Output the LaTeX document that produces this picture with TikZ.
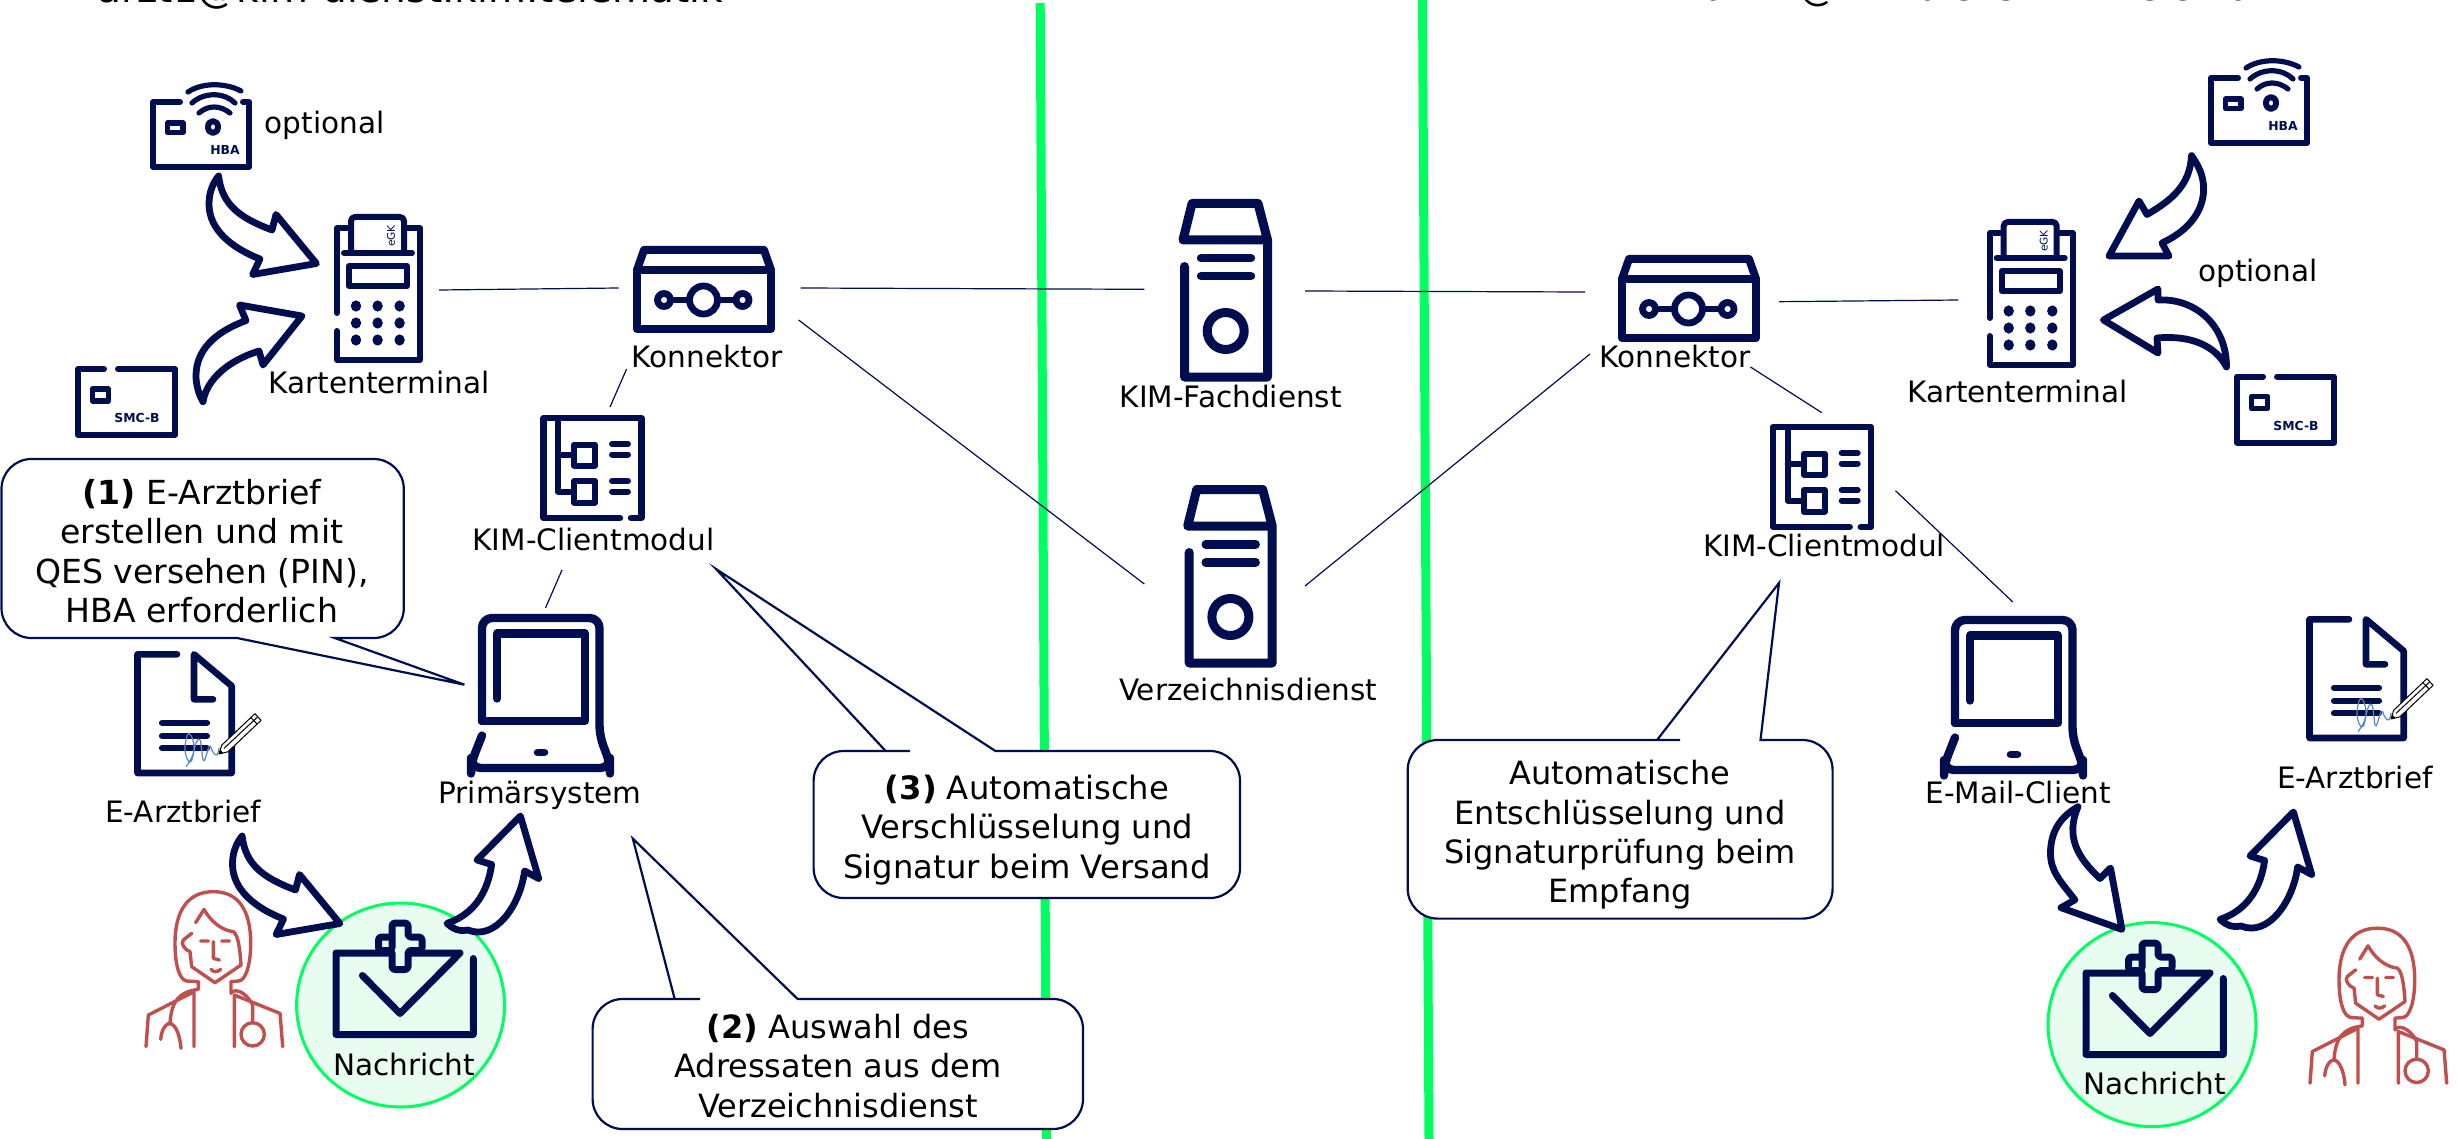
\documentclass[tikz,border=0pt]{standalone}
\usepackage{fontspec}
\setmainfont{DejaVu Sans}
\definecolor{navy}{HTML}{000E50}
\definecolor{sepgreen}{HTML}{00FF60}
\definecolor{softgreen}{HTML}{E8FDF0}
\definecolor{docred}{HTML}{C0504D}
\definecolor{sigblue}{HTML}{5B85C0}
\tikzset{
  icon/.style={draw=navy,line width=3pt,line cap=round,line join=round},
  bigarrow/.style={draw=navy,fill=white,line width=3.4pt,line join=round},
  link/.style={draw=navy,line width=.6pt},
  separator/.style={draw=sepgreen,line width=4.5pt},
  callout/.style={draw=navy,fill=white,line width=1.1pt,line join=miter},
  calltext/.style={align=center,inner sep=0pt,font=\fontsize{16pt}{19.7pt}\selectfont,text=black},
  lab/.style={inner sep=0pt,font=\fontsize{14.75pt}{17pt}\selectfont,text=black,text height=.75em,text depth=.2em},
  msgring/.style={draw=sepgreen,fill=softgreen,line width=1.5pt},
  doctorline/.style={draw=docred,line width=1.7pt,line cap=round,line join=round},
  pcard/.pic={
    \draw[icon] (180,102)--(153,102)--(153,167)--(249,167)--(249,102)--(243,102);
    \draw[icon,line width=2.8pt] (167.5,123) rectangle (183,132.5);
    \draw[icon] (213,127) ellipse (5 and 6);
    \draw[icon,line width=2.6pt] (188,92) .. controls (203,82) and (226,83) .. (241,91);
    \draw[icon,line width=2.6pt] (192,103) .. controls (204,92) and (224,92) .. (235,103);
    \draw[icon,line width=2.6pt] (199,113) .. controls (208,105) and (220,105) .. (230,113);
    \node[navy,font=\fontsize{6.2pt}{7pt}\selectfont\bfseries] at (225,150) {HBA};
  },
  pchipcard/.pic={
    \draw[icon] (104,369)--(78,369)--(78,435)--(175,435)--(175,369)--(118,369);
    \draw[icon,line width=2.8pt] (92.5,389) rectangle (108.5,401);
    \node[navy,font=\fontsize{6.2pt}{7pt}\selectfont\bfseries] at (137,418) {SMC-B};
  },
  pterminal/.pic={
    \draw[icon] (337,313)--(337,228)--(347,228);
    \draw[icon] (407,228)--(420,228)--(420,360)--(337,360)--(337,331);
    \draw[icon,rounded corners=2pt] (351,251)--(351,217)--(404,217)--(404,251);
    \draw[icon] (344,253)--(412,253);
    \draw[icon] (349,266) rectangle (407,286);
    \foreach \xx in {356,377.6,399.6}\foreach \yy in {306,323,340}{\fill[navy] (\xx,\yy) ellipse (5.2 and 5.6);}
    \node[navy,rotate=90,font=\fontsize{5.3pt}{6pt}\selectfont] at (391,236) {eGK};
  },
  pkonn/.pic={
    \draw[icon,line width=4pt] (637,329)--(637,270)--(771,270)--(771,329)--cycle;
    \draw[icon,line width=4pt] (637,270)--(644,250)--(764,250)--(771,270);
    \draw[icon,line width=3.4pt] (703.5,300) circle (14);
    \draw[icon,line width=3.4pt] (664,300) circle (6.5);
    \draw[icon,line width=3.4pt] (742.5,300) circle (6.5);
    \draw[icon,line width=3.4pt] (670.5,300)--(689,300) (718,300)--(736,300);
  },
  pmodule/.pic={
    \draw[icon,line width=3.2pt] (620,518)--(543.5,518)--(543.5,418)--(641.5,418)--(641.5,518)--(631,518);
    \draw[icon,line width=3pt] (558,418)--(558,491.5)--(574,491.5) (558,454.5)--(574,454.5);
    \draw[icon,line width=3pt] (574,444.5) rectangle (595,465.5);
    \draw[icon,line width=3pt] (574,481) rectangle (595,502.5);
    \draw[icon,line width=3pt] (612,444)--(628,444) (612,454.5)--(628,454.5) (612,481)--(628,481) (612,491.5)--(628,491.5);
  },
  plaptop/.pic={
    \draw[icon,line width=4.2pt,rounded corners=5pt] (482,722.5)--(482,619.5)--(599.5,619.5)--(599.5,737)--(610,765)--(610,769.5)--(471,769.5)--(471,765)--(482,737);
    \draw[icon,line width=4.2pt] (482,722.5)--(585,722.5)--(585,635)--(497,635)--(497,700);
    \draw[navy,line width=3.8pt,line cap=round] (537.5,754)--(544.5,754);
  },
  pdoc/.pic={
    \draw[icon,line width=3.3pt] (177,654.3)--(137.5,654.3)--(137.5,773)--(231.7,773)--(231.7,686)--(194,654.3)--(194,699.3)--(213,699.3);
    \draw[icon,line width=3.1pt] (162,722.7)--(207,722.7) (162,735.7)--(207,735.7) (162,748.3)--(207,748.3);
    \draw[sigblue,line width=.6pt] plot[smooth,tension=.8] coordinates {(186,766.7)(194,750)(189,733.3)(185,750)(190.7,761.7)(196,743)(200,740)(201.7,750)(204,760.7)(209.3,746.7)(212.7,751.7)(216.7,755)(219,748)};
    \draw[black,fill=white,line width=.5pt,line join=round] (219,754)--(221.7,745.2)--(254.9,713.7)--(261.1,720.3)--(227.9,751.8)--cycle;
    \draw[black,line width=.5pt] (250.9,717.6)--(257.1,724.1) (224,748.4)--(257.5,717);
    \fill[black] (219,754)--(220.3,749.8)--(223.3,753)--cycle;
  },
  pserver/.pic={
    \draw[icon,line width=4.5pt] (1184.5,266.5)--(1184.5,377)--(1267.5,377)--(1267.5,240)--(1183,240)--(1192,203.5)--(1258,203.5)--(1267.5,240);
    \draw[icon,line width=4.2pt] (1201,258.3)--(1251,258.3) (1201,276.3)--(1251,276.3);
    \draw[icon,line width=4.5pt] (1225.7,331) circle (18.5);
  },
  pinbox/.pic={
    \draw[icon,line width=3.5pt] (473.3,964)--(473.3,1040)--(336,1040)--(336,958.5)--(460,958.5)--(400,1019)--(362.4,981);
    \draw[icon,line width=3.5pt,fill=softgreen,rounded corners=1.5pt] (392,955)--(392,942.5)--(378.5,942.5)--(378.5,956)--(392,956)--(392,975)--(408,975)--(408,956)--(422,956)--(422,942.5)--(408,942.5)--(408,928.5)--(392,928.5)--cycle;
  },
  pdoctor/.pic={
    \begin{scope}[shift={(130,880)},x=.1667pt,y=-.1667pt]
    \draw[doctorline] (205,305)--(170,303) .. controls (150,300) and (135,260) .. (135,190) .. controls (135,90) and (175,35) .. (250,35) .. controls (325,35) and (362,90) .. (362,190) .. controls (362,260) and (345,303) .. (325,303)--(303,305);
    \draw[doctorline] (197,128)--(222,88) .. controls (240,120) and (270,150) .. (310,155) .. controls (325,165) and (330,210) .. (333,255)--(255,308)--(185,260)--(180,215) .. controls (165,210) and (150,190) .. (160,180)--(185,160);
    \draw[doctorline] (212,183)--(235,183) (275,183)--(298,183) (250,185)--(250,235)--(268,240);
    \draw[doctorline] (243,268) .. controls (250,277) and (262,277) .. (272,268);
    \draw[doctorline] (205,305)--(205,328) .. controls (150,335) and (125,360) .. (120,428);
    \draw[doctorline] (192,500)--(192,335)--(55,405)--(48,500);
    \draw[doctorline] (92,478) .. controls (95,440) and (115,425) .. (125,432) .. controls (140,440) and (150,470) .. (153,505);
    \draw[doctorline] (303,305)--(303,340) .. controls (310,325) and (345,330) .. (368,375)--(368,428);
    \draw[doctorline] (313,500)--(313,345)--(450,400)--(458,500);
    \draw[doctorline] (368,463) circle (35);
    \end{scope}
  },
  parrowA/.pic={
    \draw[bigarrow] (218.6,176) .. controls (222,205) and (240,218) .. (272,230)--(276,214.5)--(316.4,263.5)--(252.6,274.5)--(260,259) .. controls (232,248) and (209,230) .. (209,204) .. controls (209,192) and (213,183) .. cycle;
  },
  parrowB/.pic={
    \draw[bigarrow] (447,927.4) .. controls (475,918) and (488,895) .. (491.6,868.5)--(477,864)--(520.4,820)--(538.7,882.5)--(524.6,875) .. controls (520,910) and (495,945) .. (468,934) .. controls (458,936) and (452,932) .. cycle;
  }
}
\begin{document}
\begin{tikzpicture}[x=.5pt,y=-.5pt]
\useasboundingbox (0,0) rectangle (2458,1139);

% named connector ends
\coordinate (s1a) at (1040.2,3); \coordinate (s1b) at (1046.5,1139);
\coordinate (s2a) at (1422.5,0); \coordinate (s2b) at (1429,1139);
\coordinate (lTermE) at (439,290); \coordinate (lKonW) at (618.7,288);
\coordinate (lKonE) at (800.7,288); \coordinate (fachW) at (1144.3,289.3);
\coordinate (lKonSE) at (798.6,320); \coordinate (verzW) at (1144.3,584);
\coordinate (lKonS) at (626.6,369); \coordinate (lModN) at (610,407);
\coordinate (lModS) at (562,570); \coordinate (lLapN) at (545.5,608);
\coordinate (fachE) at (1305,291); \coordinate (rKonW) at (1585,292);
\coordinate (verzE) at (1305,586); \coordinate (rKonSW) at (1590,354);
\coordinate (rKonE) at (1779,301.7); \coordinate (rTermW) at (1958.4,300);
\coordinate (rKonS) at (1750.5,367); \coordinate (rModN) at (1821.6,412.6);
\coordinate (rModE) at (1895.5,490.7); \coordinate (rLapN) at (2012.8,602);

% separators
\draw[separator] (s1a)--(s1b);
\draw[separator] (s2a)--(s2b);

% connectors
\draw[link] (lTermE)--(lKonW);
\draw[link] (lKonE)--(fachW);
\draw[link] (lKonSE)--(verzW);
\draw[link] (lKonS)--(lModN);
\draw[link] (lModS)--(lLapN);
\draw[link] (fachE)--(rKonW);
\draw[link] (verzE)--(rKonSW);
\draw[link] (rKonE)--(rTermW);
\draw[link] (rKonS)--(rModN);
\draw[link] (rModE)--(rLapN);

% message circles
\draw[msgring] (400.6,1005) ellipse (104 and 102);
\draw[msgring] (2152,1024.6) ellipse (104 and 102);

% left icons
\pic at (0,0) {pcard};
\pic at (0,0) {pchipcard};
\pic at (0,0) {pterminal};
\pic at (0,0) {pkonn};
\pic at (0,0) {pmodule};
\pic at (0,-1.5) {plaptop};
\pic at (0,0) {pdoc};
\pic at (0,-5.5) {pinbox};
\pic at (0,0) {pdoctor};
% servers
\pic at (0,0) {pserver};
\pic at (4.7,286) {pserver};
% right icons
\pic at (2058,-24) {pcard};
\pic at (2159,7.5) {pchipcard};
\pic at (1652.7,5) {pterminal};
\pic at (985,9) {pkonn};
\pic at (1229.7,9) {pmodule};
\pic at (1473,.5) {plaptop};
\pic at (2172,-35) {pdoc};
\pic at (1750,14.5) {pinbox};
\pic at (2164,36.5) {pdoctor};

% curved arrows
\pic at (0,0) {parrowA};
\draw[bigarrow] (203,401.7) .. controls (207,378) and (230,360) .. (259,351)--(263,365)--(302,316)--(239.5,305)--(246,320.6) .. controls (215,332) and (196,350) .. (196,376) .. controls (196,385) and (199,395) .. cycle;
\pic at (23.5,660) {parrowA};
\pic at (0,-4) {parrowB};
\pic at (1773,-8) {parrowB};
\draw[bigarrow] (2078,806.7) .. controls (2065,837) and (2078,858) .. (2100,878.5)--(2110.5,868)--(2121.9,929.4)--(2061,907.7)--(2074.9,899.8) .. controls (2060,881) and (2050.5,871) .. (2050.5,853.2) .. controls (2050.5,832) and (2060,817) .. cycle;
\draw[bigarrow] (2191.5,155.6) .. controls (2190,185) and (2172,200) .. (2147,214.5)--(2139,201)--(2109,256)--(2169,256)--(2162,243) .. controls (2190,230) and (2203.6,210) .. (2203.6,189) .. controls (2203.6,175) and (2198,165) .. cycle;
\draw[bigarrow] (2226.5,367) .. controls (2215,345) and (2190,335) .. (2157,338)--(2158,353)--(2103.4,320)--(2158,289)--(2158,300) .. controls (2195,298) and (2226.5,325) .. cycle;

% callouts
\draw[callout] (237,638)--(464.4,684.7)--(334.7,638)--(340,638)[rounded corners=15pt]--(403.8,638)--(403.8,459)--(1.5,459)--(1.5,638)--(100,638)[sharp corners]--cycle;
\draw[callout] (674.7,999)--(632.8,838.6)--(797.6,999)--(805,999)[rounded corners=15pt]--(1083,999)--(1083,1129)--(592.6,1129)--(592.6,999)--(670,999)[sharp corners]--cycle;
\draw[callout] (885.7,751)--(716,569)--(995.4,751)--(1000,751)[rounded corners=15pt]--(1240,751)--(1240,898)--(813.6,898)--(813.6,751)--(880,751)[sharp corners]--cycle;
\draw[callout] (1657,740)--(1779,583)--(1760.5,740)--(1765,740)[rounded corners=15pt]--(1832.6,740)--(1832.6,918.6)--(1407.7,918.6)--(1407.7,740)--(1650,740)[sharp corners]--cycle;

\node[calltext,font=\fontsize{16.55pt}{19.7pt}\selectfont] (c1) at (202,551) {\textbf{(1)} E-Arztbrief\\erstellen und mit\\QES versehen (PIN),\\HBA erforderlich};
\node[calltext] (c2) at (838,1066) {\textbf{(2)} Auswahl des\\Adressaten aus dem\\Verzeichnisdienst};
\node[calltext,font=\fontsize{16.1pt}{19.7pt}\selectfont] (c3) at (1027,830) {\textbf{(3)} Automatische\\Verschlüsselung und\\Signatur beim Versand};
\node[calltext] (c4) at (1620,835) {Automatische\\Entschlüsselung und\\Signaturprüfung beim\\Empfang};

% labels
\node[lab] (optL) at (324.5,128) {optional};
\node[lab] (termL) at (379,388) {Kartenterminal};
\node[lab] (konL) at (707,362) {Konnektor};
\node[lab] (modL) at (593.6,545) {KIM-Clientmodul};
\node[lab] (docL) at (183,816.5) {E-Arztbrief};
\node[lab] (lapL) at (540,798) {Primärsystem};
\node[lab] (msgL) at (404,1070) {Nachricht};
\node[lab] (fach) at (1230.7,402) {KIM-Fachdienst};
\node[lab] (verz) at (1248,695) {Verzeichnisdienst};
\node[lab] (konR) at (1675,362) {Konnektor};
\node[lab] (termR) at (2017.5,396.5) {Kartenterminal};
\node[lab] (modR) at (1824,551) {KIM-Clientmodul};
\node[lab] (optR) at (2258,276) {optional};
\node[lab] (lapR) at (2018,798) {E-Mail-Client};
\node[lab] (docR) at (2354.8,783) {E-Arztbrief};
\node[lab] (msgR) at (2154.6,1089) {Nachricht};

% clipped addresses
\node[anchor=base west,inner sep=0pt,font=\fontsize{19.5pt}{22pt}\selectfont] (addrL) at (97,3) {arzt1@kim-dienst.kim.telematik};
\node[anchor=base west,inner sep=0pt,font=\fontsize{18.5pt}{22pt}\selectfont] (addrR) at (1704,.5) {arzt2@kim-dienst.kim.telematik};
\end{tikzpicture}
\end{document}
